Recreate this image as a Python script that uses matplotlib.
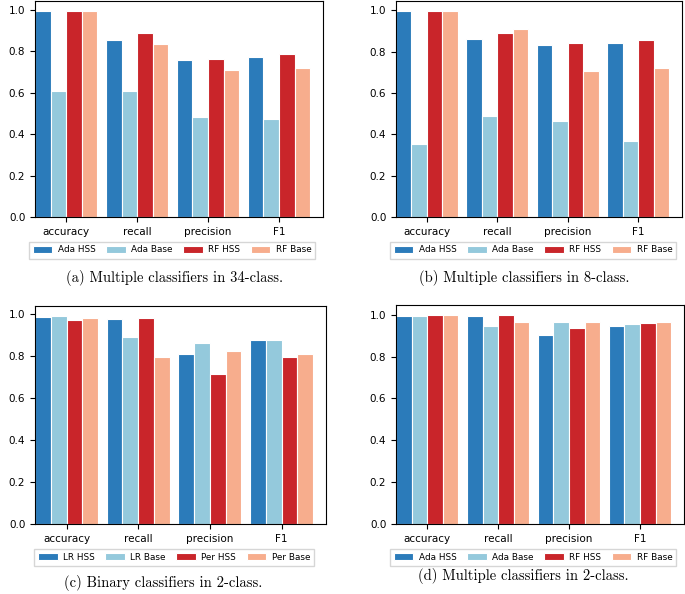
import numpy as np
import matplotlib
matplotlib.use("Agg")
import matplotlib.pyplot as plt

metrics = ["accuracy", "recall", "precision", "F1"]

# (a) 34-class
labels_a = ["Ada HSS", "Ada Base", "RF HSS", "RF Base"]
ada_hss_a = [0.992, 0.854, 0.755, 0.772]
ada_base_a = [0.609, 0.609, 0.481, 0.474]
rf_hss_a = [0.992, 0.885, 0.760, 0.788]
rf_base_a = [0.994, 0.833, 0.707, 0.716]

# (b) 8-class
labels_b = ["Ada HSS", "Ada Base", "RF HSS", "RF Base"]
ada_hss_b = [0.995, 0.860, 0.834, 0.844]
ada_base_b = [0.352, 0.489, 0.466, 0.370]
rf_hss_b = [0.998, 0.892, 0.841, 0.859]
rf_base_b = [0.995, 0.912, 0.707, 0.722]

# (c) binary classifiers, 2-class
labels_c = ["LR HSS", "LR Base", "Per HSS", "Per Base"]
lr_hss_c = [0.986, 0.976, 0.810, 0.876]
lr_base_c = [0.989, 0.892, 0.863, 0.877]
per_hss_c = [0.970, 0.979, 0.716, 0.794]
per_base_c = [0.982, 0.797, 0.826, 0.810]

# (d) 2-class
labels_d = ["Ada HSS", "Ada Base", "RF HSS", "RF Base"]
ada_hss_d = [0.994, 0.994, 0.905, 0.945]
ada_base_d = [0.995, 0.947, 0.965, 0.957]
rf_hss_d = [0.997, 0.997, 0.936, 0.963]
rf_base_d = [0.997, 0.965, 0.965, 0.965]

captions = ["(a) Multiple classifiers in 34-class.",
            "(b) Multiple classifiers in 8-class.",
            "(c) Binary classifiers in 2-class.",
            "(d) Multiple classifiers in 2-class."]

colors = ["#2b7bba", "#94c9dc", "#c9252a", "#f7ad8d"]

W, H = 685, 594
fig = plt.figure(figsize=(W / 100, H / 100), dpi=100)


def px_axes(left, top, right, bottom):
    return fig.add_axes([left / W, 1 - bottom / H, (right - left) / W, (bottom - top) / H])


panels = [
    (px_axes(35, 0.5, 323, 217), labels_a, [ada_hss_a, ada_base_a, rf_hss_a, rf_base_a], 172, 250, 175, 278),
    (px_axes(396, 0.5, 682, 217), labels_b, [ada_hss_b, ada_base_b, rf_hss_b, rf_base_b], 533, 250, 524, 278),
    (px_axes(35, 306, 326, 524), labels_c, [lr_hss_c, lr_base_c, per_hss_c, per_base_c], 174, 557, 163, 583),
    (px_axes(396, 305, 684, 524), labels_d, [ada_hss_d, ada_base_d, rf_hss_d, rf_base_d], 533, 557, 523, 576),
]

w = 0.22
x = np.arange(len(metrics))
for i, (ax, labels, series, lx, ly, cx, cy) in enumerate(panels):
    for j, (lab, vals) in enumerate(zip(labels, series)):
        ax.bar(x + (j - 1.5) * w, vals, w, color=colors[j], edgecolor="white", linewidth=0.8, label=lab)
    ax.set_xlim(-2 * w, 3 + 2 * w + 0.18)
    ax.set_xticks(x)
    ax.set_xticklabels(metrics)
    ax.tick_params(labelsize=7.5)
    ax.legend(loc="center", bbox_to_anchor=(lx / W, 1 - ly / H), bbox_transform=fig.transFigure,
              ncol=4, fontsize=6.4, columnspacing=1.2, handlelength=2.2, handletextpad=0.6,
              borderpad=0.45, fancybox=False, edgecolor="#cccccc")
    fig.text(cx / W, 1 - cy / H, captions[i], ha="center", va="center", family="cmr10", fontsize=10.5)

fig.savefig("out.png", dpi=100)
